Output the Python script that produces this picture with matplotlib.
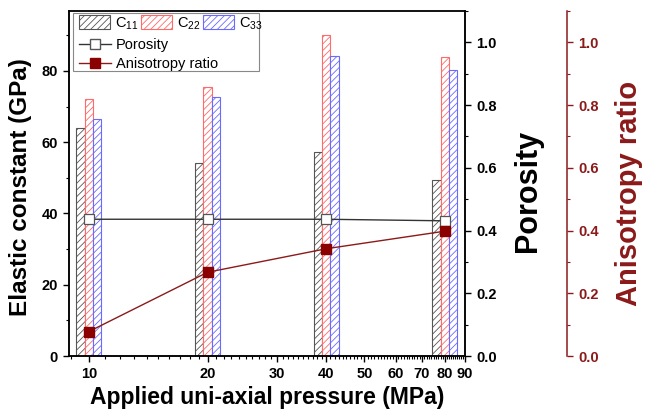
import numpy as np
import matplotlib
matplotlib.use("Agg")
import matplotlib.pyplot as plt
from matplotlib.patches import Rectangle, Patch
from matplotlib.lines import Line2D
from matplotlib.ticker import FixedLocator, NullFormatter, MultipleLocator

plt.rcParams['font.family'] = ['Liberation Sans', 'DejaVu Sans']
plt.rcParams['mathtext.fontset'] = 'custom'
plt.rcParams['mathtext.rm'] = 'Liberation Sans'
plt.rcParams['hatch.linewidth'] = 0.6

# ---- data ----
pressure = [10, 20, 40, 80]
c11 = [64.0, 54.2, 57.1, 49.4]
c22 = [72.0, 75.4, 90.0, 84.0]
c33 = [66.5, 72.8, 84.2, 80.3]
porosity = [0.436, 0.436, 0.436, 0.431]
anisotropy = [0.078, 0.267, 0.342, 0.398]
xticks = [10, 20, 30, 40, 50, 60, 70, 80, 90]

red = '#8b1a1a'
fig = plt.figure(figsize=(6.45, 4.09), dpi=100)
ax = fig.add_axes([69/645, 1-356/409, 396/645, 345/409])

w = 0.0212  # bar width in decades
series = [(c11, -1, '#555555'), (c22, 0, '#ff6a6a'), (c33, 1, '#6a6aff')]
lp = np.log10(pressure)
for vals, k, col in series:
    left = 10**(lp + (k - 0.5) * w)
    right = 10**(lp + (k + 0.5) * w)
    ax.bar(left, vals, width=right - left, align='edge', facecolor='white',
           edgecolor=col, hatch='/////', linewidth=0.8)

ax.set_xscale('log')
ax.set_xlim(8.9, 90)
ax.set_ylim(0, 96.8)
ax.xaxis.set_major_locator(FixedLocator(xticks))
ax.xaxis.set_major_formatter(matplotlib.ticker.FixedFormatter([str(t) for t in xticks]))
ax.xaxis.set_minor_locator(FixedLocator([v for v in range(9, 91) if v not in xticks]))
ax.xaxis.set_minor_formatter(NullFormatter())
ax.yaxis.set_major_locator(MultipleLocator(20))
ax.yaxis.set_minor_locator(MultipleLocator(10))

# porosity axis
ax2 = ax.twinx()
ax2.plot(pressure, porosity, '-s', color='#333333', lw=1.0, ms=6.5,
         mfc='white', mec='#555555', mew=0.9)
ax2.set_ylim(0, 1.1)
ax2.yaxis.set_major_locator(MultipleLocator(0.2))
ax2.yaxis.set_minor_locator(MultipleLocator(0.1))
ax2.yaxis.set_major_formatter(matplotlib.ticker.FormatStrFormatter('%.1f'))

# anisotropy axis
ax3 = ax.twinx()
ax3.spines['right'].set_position(('axes', 1 + 102/396))
ax3.spines['right'].set_color(red)
for s in ['top', 'left', 'bottom']:
    ax3.spines[s].set_visible(False)
ax3.plot(pressure, anisotropy, '-s', color=red, lw=1.0, ms=6.5,
         mfc='#8b0000', mec='#8b0000')
ax3.set_ylim(0, 1.1)
ax3.yaxis.set_major_locator(MultipleLocator(0.2))
ax3.yaxis.set_minor_locator(MultipleLocator(0.1))
ax3.yaxis.set_major_formatter(matplotlib.ticker.FormatStrFormatter('%.1f'))
ax3.tick_params(axis='y', which='both', colors=red)

for a in (ax, ax2, ax3):
    a.tick_params(which='major', length=4.5, width=1.0, direction='out')
    a.tick_params(which='minor', length=2.5, width=0.8, direction='out')
    for lab in a.get_xticklabels() + a.get_yticklabels():
        lab.set_fontweight('bold')
        lab.set_fontsize(10.5)
    for s in a.spines.values():
        s.set_linewidth(1.1)
ax.spines['top'].set_color('#333333')
ax.tick_params(axis='x', which='both', top=False)

ax.set_xlabel('Applied uni-axial pressure (MPa)', fontsize=16.5, fontweight='bold')
ax.xaxis.set_label_coords(0.5, -0.088)
ax.set_ylabel('Elastic constant (GPa)', fontsize=17.5, fontweight='bold')
ax.yaxis.set_label_coords(-0.093, 0.49)
ax2.set_ylabel('Porosity', fontsize=22, fontweight='bold')
ax2.yaxis.set_label_coords(1.121, 0.478)
ax3.set_ylabel('Anisotropy ratio', fontsize=21, fontweight='bold', color=red)
ax3.yaxis.set_label_coords(1.379, 0.471)

# legend
fig.patches.append(Rectangle((73/645, 1-71/409), 186/645, 58/409, transform=fig.transFigure,
                             facecolor='white', edgecolor='#888888', lw=0.8, zorder=5))
h1 = [Patch(facecolor='white', edgecolor=col, hatch='/////', lw=0.8) for _, _, col in series]
names = [r'C$_{\mathregular{11}}$', r'C$_{\mathregular{22}}$', r'C$_{\mathregular{33}}$']
leg1 = fig.legend(h1, names, loc='upper left', bbox_to_anchor=(76/645, 1-12/409), ncol=3,
                  frameon=False, fontsize=10.5, handlelength=2.1, handleheight=1.15,
                  columnspacing=0.2, handletextpad=0.35, borderaxespad=0, borderpad=0.2)
h2 = [Line2D([], [], color='#333333', marker='s', ms=6.5, mfc='white', mec='#555555', lw=1.0),
      Line2D([], [], color=red, marker='s', ms=6.5, mfc='#8b0000', mec='#8b0000', lw=1.0)]
leg2 = fig.legend(h2, ['Porosity', 'Anisotropy ratio'], loc='upper left',
                  bbox_to_anchor=(76/645, 1-35/409), frameon=False, fontsize=10.5,
                  handlelength=2.2, handletextpad=0.35, borderaxespad=0, borderpad=0.2,
                  labelspacing=0.35)
leg1.set_zorder(6)
leg2.set_zorder(6)

fig.savefig('out.png', dpi=100)
